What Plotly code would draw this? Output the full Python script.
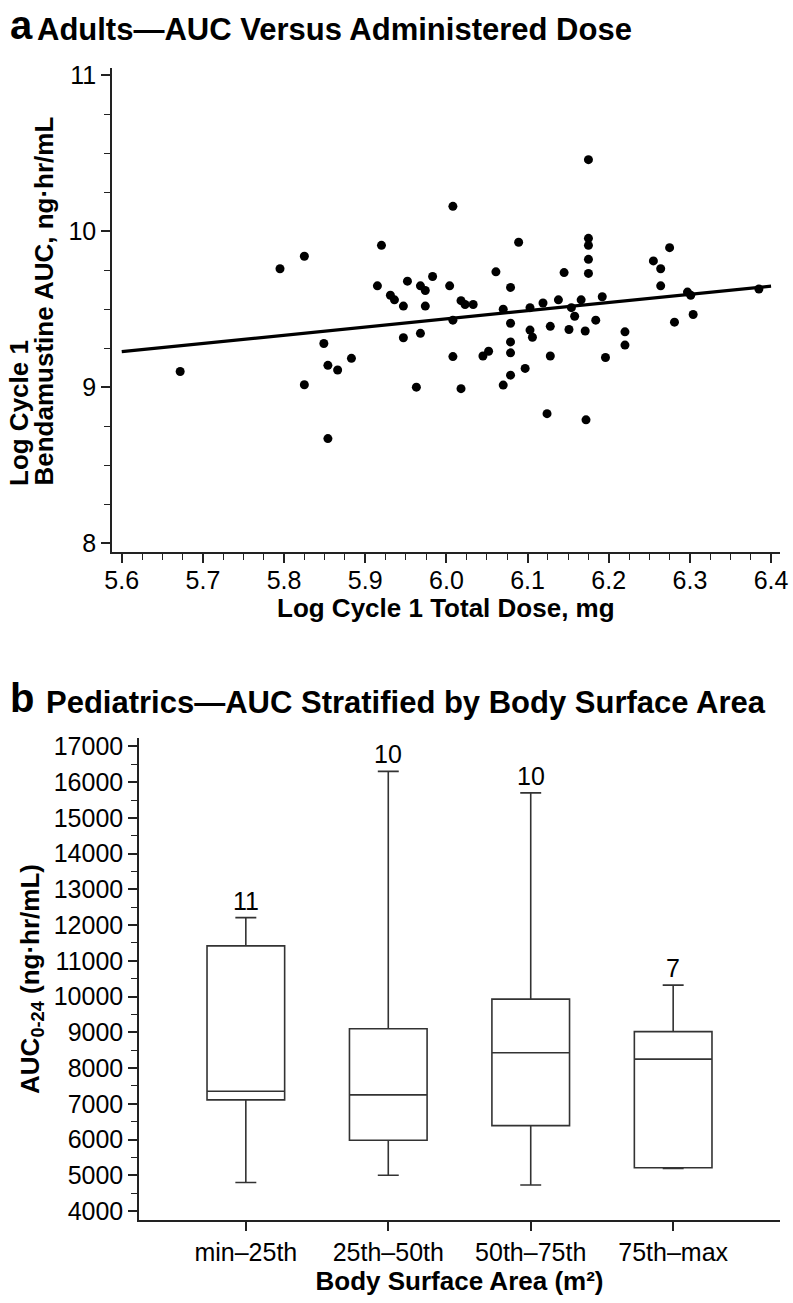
import plotly.graph_objects as go

# ---------------- Panel a data ----------------
log_dose = [5.672, 5.795, 5.825, 5.825, 5.849, 5.854, 5.854, 5.866, 5.883, 5.915,
            5.920, 5.931, 5.936, 5.947, 5.947, 5.952, 5.963, 5.968, 5.968, 5.974,
            5.974, 5.983, 6.004, 6.008, 6.008, 6.008, 6.018, 6.018, 6.023, 6.033,
            6.045, 6.052, 6.061, 6.070, 6.070, 6.079, 6.079, 6.079, 6.079, 6.079,
            6.089, 6.097, 6.103, 6.103, 6.106, 6.119, 6.124, 6.128, 6.128, 6.138,
            6.145, 6.151, 6.154, 6.158, 6.166, 6.171, 6.172, 6.175, 6.175, 6.175,
            6.175, 6.175, 6.184, 6.192, 6.196, 6.220, 6.220, 6.255, 6.264, 6.264,
            6.275, 6.281, 6.297, 6.301, 6.304, 6.385]
log_auc = [9.10, 9.76, 9.84, 9.015, 9.28, 9.14, 8.67, 9.11, 9.185, 9.65,
           9.91, 9.59, 9.56, 9.52, 9.317, 9.68, 9.00, 9.65, 9.345, 9.62,
           9.52, 9.71, 9.65, 10.16, 9.43, 9.196, 9.555, 8.99, 9.53, 9.53,
           9.20, 9.23, 9.74, 9.50, 9.013, 9.64, 9.41, 9.29, 9.22, 9.077,
           9.93, 9.12, 9.51, 9.366, 9.32, 9.54, 8.83, 9.39, 9.20, 9.56,
           9.735, 9.37, 9.51, 9.455, 9.56, 9.36, 8.79, 10.46, 9.955, 9.91,
           9.82, 9.73, 9.43, 9.58, 9.19, 9.355, 9.27, 9.81, 9.76, 9.65,
           9.895, 9.417, 9.61, 9.59, 9.466, 9.63]
fit_x = [5.6, 6.4]
fit_y = [9.228, 9.648]

# ---------------- Panel b data ----------------
bsa_groups = ["min\u201325th", "25th\u201350th", "50th\u201375th", "75th\u2013max"]
q1 = [7110, 5980, 6390, 5210]
median = [7350, 7250, 8430, 8250]
q3 = [11420, 9100, 9930, 9020]
lower = [4800, 5000, 4730, 5190]
upper = [12210, 16300, 15700, 10320]
n_counts = ["11", "10", "10", "7"]

FONT = "Liberation Sans, Arial, Helvetica, sans-serif"
AX = "#222222"
W, H = 793, 1303

fig = go.Figure()

fig.add_trace(go.Scatter(x=log_dose, y=log_auc, mode="markers",
                         marker=dict(color="black", size=9),
                         xaxis="x", yaxis="y", showlegend=False))
fig.add_trace(go.Scatter(x=fit_x, y=fit_y, mode="lines",
                         line=dict(color="black", width=3.2),
                         xaxis="x", yaxis="y", showlegend=False))

for i, g in enumerate(bsa_groups):
    fig.add_trace(go.Box(x=[g], q1=[q1[i]], median=[median[i]], q3=[q3[i]],
                         lowerfence=[lower[i]], upperfence=[upper[i]],
                         width=0.545, whiskerwidth=0.27,
                         fillcolor="white", line=dict(color="#333333", width=1.6),
                         boxpoints=False, xaxis="x2", yaxis="y2", showlegend=False))

tickfont = dict(family=FONT, size=25, color="black")
titlefont = dict(family=FONT, size=26, color="black")

fig.update_layout(
    width=W, height=H,
    margin=dict(l=0, r=0, t=0, b=0, autoexpand=False),
    paper_bgcolor="white", plot_bgcolor="white",
    font=dict(family=FONT, color="black"),
    xaxis=dict(domain=[112/W, 780/W], anchor="y", range=[5.588, 6.411], automargin=False,
               tickmode="array", tickvals=[5.6, 5.7, 5.8, 5.9, 6.0, 6.1, 6.2, 6.3, 6.4],
               ticktext=["5.6", "5.7", "5.8", "5.9", "6.0", "6.1", "6.2", "6.3", "6.4"],
               ticks="outside", ticklen=9, tickwidth=1.5, tickcolor=AX, ticklabelstandoff=-4,
               minor=dict(dtick=0.025, ticks="outside", ticklen=6, tickwidth=1.2, tickcolor=AX, showgrid=False),
               showline=True, linecolor=AX, linewidth=1.5, showgrid=False, zeroline=False,
               tickfont=tickfont),
    yaxis=dict(domain=[1-552/H, 1-68/H], anchor="x", range=[7.942, 11.048], automargin=False,
               tickmode="array", tickvals=[8, 9, 10, 11], ticktext=["8", "9", "10", "11"],
               ticks="outside", ticklen=9, tickwidth=1.5, tickcolor=AX,
               minor=dict(dtick=0.25, ticks="outside", ticklen=6, tickwidth=1.2, tickcolor=AX, showgrid=False),
               showline=True, linecolor=AX, linewidth=1.5, showgrid=False, zeroline=False,
               tickfont=tickfont),
    xaxis2=dict(domain=[139/W, 780/W], anchor="y2", range=[-0.75, 3.75], automargin=False,
                type="category", categoryorder="array", categoryarray=bsa_groups,
                ticks="outside", ticklen=9, tickwidth=1.5, tickcolor=AX,
                showline=True, linecolor=AX, linewidth=1.5, showgrid=False, zeroline=False,
                tickfont=tickfont,
                title=dict(text="<b>Body Surface Area (m²)</b>", font=titlefont, standoff=7)),
    yaxis2=dict(domain=[1-1220/H, 1-738/H], anchor="x2", range=[3750, 17235], automargin=False,
                tickmode="linear", tick0=4000, dtick=1000, tickformat="d",
                ticks="outside", ticklen=9, tickwidth=1.5, tickcolor=AX,
                minor=dict(dtick=500, ticks="outside", ticklen=6, tickwidth=1.2, tickcolor=AX, showgrid=False),
                showline=True, linecolor=AX, linewidth=1.5, showgrid=False, zeroline=False,
                tickfont=tickfont,
                title=dict(text="<b>AUC<sub>0-24</sub> (ng·hr/mL)</b>", font=titlefont, standoff=7)),
)

# panel a axis titles as annotations
fig.add_annotation(x=446/W, y=1-608/H, xref="paper", yref="paper", xanchor="center", yanchor="middle",
                   text="<b>Log Cycle 1 Total Dose, mg</b>", showarrow=False, font=titlefont)
fig.add_annotation(x=19/W, y=1-488/H, xref="paper", yref="paper", xanchor="center", yanchor="bottom",
                   text="<b>Log Cycle 1</b>", textangle=-90, showarrow=False, font=titlefont)
fig.add_annotation(x=43/W, y=1-488/H, xref="paper", yref="paper", xanchor="center", yanchor="bottom",
                   text="<b>Bendamustine AUC, ng·hr/mL</b>", textangle=-90, showarrow=False, font=titlefont)

# n labels above whiskers
for i, g in enumerate(bsa_groups):
    fig.add_annotation(x=g, y=upper[i], xref="x2", yref="y2", text=n_counts[i],
                       showarrow=False, yanchor="bottom", yshift=1,
                       font=dict(family=FONT, size=25, color="black"))

# panel titles
fig.add_annotation(x=8/W, y=1-49/H, xref="paper", yref="paper", xanchor="left", yanchor="bottom",
                   text="<b>a</b>", showarrow=False, font=dict(family=FONT, size=40, color="black"))
fig.add_annotation(x=35/W, y=1-49/H, xref="paper", yref="paper", xanchor="left", yanchor="bottom",
                   text="<b>Adults—AUC Versus Administered Dose</b>", showarrow=False,
                   font=dict(family=FONT, size=31, color="black"))
fig.add_annotation(x=8/W, y=1-722/H, xref="paper", yref="paper", xanchor="left", yanchor="bottom",
                   text="<b>b</b>", showarrow=False, font=dict(family=FONT, size=40, color="black"))
fig.add_annotation(x=44/W, y=1-722/H, xref="paper", yref="paper", xanchor="left", yanchor="bottom",
                   text="<b>Pediatrics—AUC Stratified by Body Surface Area</b>", showarrow=False,
                   font=dict(family=FONT, size=31, color="black"))

fig.write_html("out.html", config={"displayModeBar": False},
               post_script="document.body.style.margin='0';")
